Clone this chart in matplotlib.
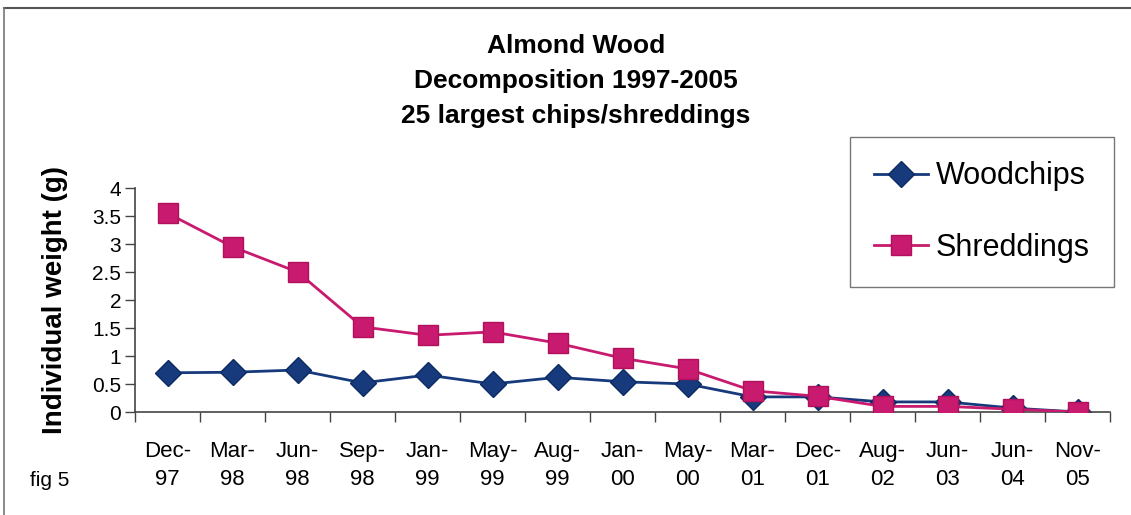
import matplotlib
matplotlib.use("Agg")
import matplotlib.pyplot as plt
from matplotlib.lines import Line2D
import numpy as np

plt.rcParams['font.family'] = ['Liberation Sans', 'DejaVu Sans']

# Sampling dates
dates = ["Dec-\n97", "Mar-\n98", "Jun-\n98", "Sep-\n98", "Jan-\n99", "May-\n99",
         "Aug-\n99", "Jan-\n00", "May-\n00", "Mar-\n01", "Dec-\n01", "Aug-\n02",
         "Jun-\n03", "Jun-\n04", "Nov-\n05"]

# Mean individual weight (g) of the 25 largest pieces
woodchips = [0.70, 0.71, 0.75, 0.52, 0.66, 0.50, 0.62, 0.54, 0.50,
             0.27, 0.27, 0.18, 0.18, 0.07, 0.00]
shreddings = [3.55, 2.95, 2.50, 1.52, 1.37, 1.43, 1.23, 0.96, 0.77,
              0.38, 0.28, 0.10, 0.10, 0.05, 0.00]

yticks = [0, 0.5, 1, 1.5, 2, 2.5, 3, 3.5, 4]
ytick_labels = ["0", "0.5", "1", "1.5", "2", "2.5", "3", "3.5", "4"]

wood_color = "#163a7c"
wood_edge = "#0c2a63"
shred_color = "#c81a6e"
shred_edge = "#b0105c"

W, H = 1131, 515
fig = plt.figure(figsize=(W / 100, H / 100), dpi=100)
ax = fig.add_axes([135 / W, 1 - 412 / H, (1110 - 135) / W, (412 - 188) / H])

x = np.arange(len(dates))
ax.plot(x, woodchips, color=wood_color, lw=2, marker="D", ms=13,
        mfc=wood_color, mec=wood_edge, zorder=2, label="Woodchips")
ax.plot(x, shreddings, color=shred_color, lw=2, marker="s", ms=15,
        mfc=shred_color, mec=shred_edge, zorder=3, label="Shreddings")

ax.set_xlim(-0.5, len(dates) - 0.5)
ax.set_ylim(0, 4)
ax.set_yticks(yticks)
ax.set_yticklabels(ytick_labels, fontsize=15)
ax.set_xticks(x)
ax.set_xticklabels(dates, fontsize=16, linespacing=1.42)
ax.set_xticks(np.arange(-0.5, len(dates)), minor=True)
ax.tick_params(axis="x", which="major", length=0, pad=21)
ax.tick_params(axis="x", which="minor", length=7, width=1, color="#444444")
ax.tick_params(axis="y", length=7, width=1, color="#444444", pad=3)

for s in ("top", "right"):
    ax.spines[s].set_visible(False)
for s in ("left", "bottom"):
    ax.spines[s].set_color("#444444")
    ax.spines[s].set_linewidth(1.2)

ax.set_ylabel("Individual weight (g)", fontsize=20, fontweight="bold")
ax.yaxis.set_label_coords((68 - 135) / 975, 0.5)

fig.text(576 / W, 1 - 81 / H, "Almond Wood\nDecomposition 1997-2005\n25 largest chips/shreddings",
         ha="center", va="center", fontsize=19, fontweight="bold", linespacing=1.6)

fig.text(50 / W, 1 - 481 / H, "fig 5", ha="center", va="center", fontsize=15)

handles = [
    Line2D([], [], color=wood_color, lw=2, marker="D", ms=13, mfc=wood_color, mec=wood_edge),
    Line2D([], [], color=shred_color, lw=2, marker="s", ms=15, mfc=shred_color, mec=shred_edge),
]
leg = fig.legend(handles, ["Woodchips", "Shreddings"], loc="upper left",
                 bbox_to_anchor=(850 / W, 1 - 137 / H), fontsize=22,
                 frameon=True, fancybox=False, edgecolor="#555555",
                 handlelength=1.75, handletextpad=0.25, labelspacing=1.35,
                 borderpad=0.8, borderaxespad=0)
leg.get_frame().set_linewidth(1.0)

# Outer frame (top and left edges)
fig.add_artist(Line2D([4 / W, 1], [1 - 8 / H, 1 - 8 / H], color="#555555", lw=1.5,
                      transform=fig.transFigure))
fig.add_artist(Line2D([4 / W, 4 / W], [0, 1 - 8 / H], color="#777777", lw=1.2,
                      transform=fig.transFigure))

fig.savefig("out.png", dpi=100)
